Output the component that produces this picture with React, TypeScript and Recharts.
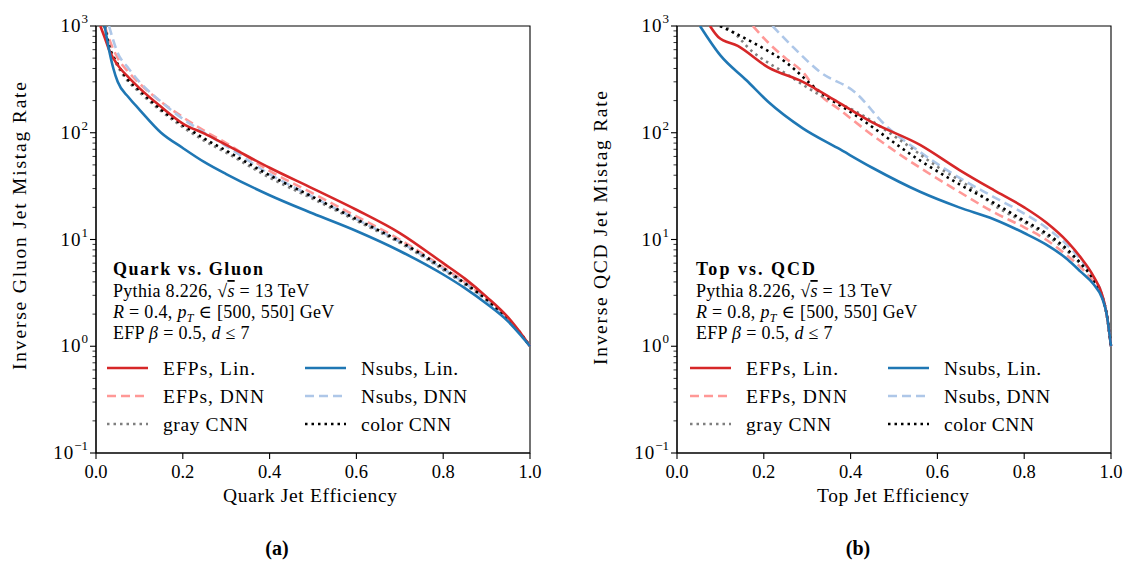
import React from "react";
import {
  LineChart,
  Line,
  XAxis,
  YAxis,
  ReferenceArea,
} from "recharts";

// ---------- data ----------
// Panel (a): quark vs gluon
const qgEfpLinX = [0.01, 0.02, 0.03, 0.05, 0.075, 0.1, 0.15, 0.2, 0.25, 0.3, 0.4, 0.5, 0.6, 0.7, 0.8, 0.85, 0.9, 0.95, 0.98, 1.0];
const qgEfpLinY = [1000, 780, 600, 430, 330, 262, 175, 122, 98, 77, 47, 30, 19, 11.5, 6.0, 4.3, 2.9, 1.85, 1.3, 1.0];
const qgNsubLinX = [0.02, 0.03, 0.04, 0.05, 0.075, 0.1, 0.15, 0.2, 0.25, 0.3, 0.4, 0.5, 0.6, 0.7, 0.8, 0.85, 0.9, 0.95, 0.98, 1.0];
const qgNsubLinY = [1000, 600, 400, 300, 215, 165, 100, 72, 53, 41, 26, 17.5, 12, 7.8, 4.7, 3.5, 2.5, 1.7, 1.25, 1.0];
const qgEfpDnnX = [0.02, 0.03, 0.05, 0.075, 0.1, 0.15, 0.2, 0.25, 0.3, 0.4, 0.5, 0.6, 0.7, 0.8, 0.85, 0.9, 0.95, 0.98, 1.0];
const qgEfpDnnY = [1000, 760, 500, 370, 290, 195, 140, 104, 80, 44, 27, 16.5, 10, 5.5, 4.0, 2.8, 1.8, 1.3, 1.0];
const qgNsubDnnX = [0.03, 0.05, 0.075, 0.1, 0.15, 0.2, 0.25, 0.3, 0.4, 0.5, 0.6, 0.7, 0.8, 0.85, 0.9, 0.95, 0.98, 1.0];
const qgNsubDnnY = [1000, 560, 400, 300, 195, 135, 100, 75, 41, 25, 15.5, 9.5, 5.3, 3.9, 2.7, 1.75, 1.28, 1.0];
const qgGrayX = [0.02, 0.03, 0.05, 0.075, 0.1, 0.15, 0.2, 0.25, 0.3, 0.4, 0.5, 0.6, 0.7, 0.8, 0.85, 0.9, 0.95, 0.98, 1.0];
const qgGrayY = [1000, 640, 420, 300, 240, 160, 113, 84, 65, 38, 24, 15, 9.3, 5.2, 3.8, 2.7, 1.75, 1.28, 1.0];
const qgColorX = [0.02, 0.03, 0.05, 0.075, 0.1, 0.15, 0.2, 0.25, 0.3, 0.4, 0.5, 0.6, 0.7, 0.8, 0.85, 0.9, 0.95, 0.98, 1.0];
const qgColorY = [1000, 660, 440, 310, 250, 165, 118, 88, 68, 40, 25, 15.5, 9.6, 5.4, 3.9, 2.75, 1.78, 1.3, 1.0];

// Panel (b): top vs QCD
const tqEfpLinX = [0.076, 0.095, 0.14, 0.21, 0.29, 0.37, 0.45, 0.56, 0.65, 0.73, 0.8, 0.85, 0.9, 0.93, 0.96, 0.98, 0.99, 1.0];
const tqEfpLinY = [1000, 790, 650, 410, 300, 195, 125, 77, 45, 29, 20, 14.5, 9.5, 6.8, 4.5, 3.0, 2.0, 1.0];
const tqNsubLinX = [0.053, 0.1, 0.16, 0.21, 0.29, 0.37, 0.45, 0.56, 0.65, 0.73, 0.8, 0.85, 0.9, 0.93, 0.96, 0.98, 0.99, 1.0];
const tqNsubLinY = [1000, 530, 310, 195, 110, 72, 47, 28, 20, 15.5, 11.5, 9.0, 6.5, 5.0, 3.8, 2.8, 2.0, 1.0];
const tqEfpDnnX = [0.175, 0.21, 0.25, 0.29, 0.33, 0.37, 0.45, 0.56, 0.65, 0.73, 0.8, 0.85, 0.9, 0.93, 0.96, 0.98, 0.99, 1.0];
const tqEfpDnnY = [1000, 700, 500, 370, 225, 170, 95, 47, 28, 18, 13, 10, 7.0, 5.5, 4.0, 2.9, 2.0, 1.0];
const tqNsubDnnX = [0.22, 0.27, 0.33, 0.41, 0.48, 0.56, 0.65, 0.73, 0.8, 0.85, 0.9, 0.93, 0.96, 0.98, 0.99, 1.0];
const tqNsubDnnY = [1000, 620, 370, 240, 118, 66, 38, 25, 17.5, 13, 8.8, 6.5, 4.4, 3.0, 2.0, 1.0];
const tqGrayX = [0.1, 0.115, 0.175, 0.25, 0.33, 0.41, 0.52, 0.6, 0.68, 0.73, 0.8, 0.85, 0.9, 0.93, 0.96, 0.98, 0.99, 1.0];
const tqGrayY = [1000, 960, 570, 360, 225, 160, 82, 48, 30, 21, 14.5, 11, 7.7, 5.9, 4.2, 2.9, 2.0, 1.0];
const tqColorX = [0.099, 0.175, 0.25, 0.33, 0.41, 0.56, 0.65, 0.73, 0.8, 0.85, 0.9, 0.93, 0.96, 0.98, 0.99, 1.0];
const tqColorY = [1000, 700, 460, 240, 147, 55, 33, 22, 15, 11.5, 8.0, 6.0, 4.2, 2.9, 2.0, 1.0];

const xTicks = [0, 0.2, 0.4, 0.6, 0.8, 1.0];
const yTicks = [0.1, 0.2, 0.3, 0.4, 0.5, 0.6, 0.7, 0.8, 0.9, 1, 2, 3, 4, 5, 6, 7, 8, 9, 10, 20, 30, 40, 50, 60, 70, 80, 90, 100, 200, 300, 400, 500, 600, 700, 800, 900, 1000];

const legendNames = ["EFPs, Lin.", "EFPs, DNN", "gray CNN", "Nsubs, Lin.", "Nsubs, DNN", "color CNN"];
const legendWidths = [92, 101, 85, 97, 106, 90];

const FONT = "'Liberation Serif', 'DejaVu Serif', serif";

const styles = [
  { color: "#d62728", dash: undefined, width: 2.6 },
  { color: "#ff9896", dash: "9 5", width: 2.6 },
  { color: "#7f7f7f", dash: "2.5 4", width: 2.6 },
  { color: "#1f77b4", dash: undefined, width: 2.6 },
  { color: "#aec7e8", dash: "9 5", width: 2.6 },
  { color: "#000000", dash: "2.5 4", width: 2.6 },
];

const zip = (xs: number[], ys: number[]) => xs.map((x, i) => ({ x, y: ys[i] }));

const YTick = ({ x, y, payload }: any) => {
  const v = payload.value as number;
  const lg = Math.log10(v);
  const exp = Math.round(lg);
  const major = Math.abs(lg - exp) < 1e-6;
  return (
    <g>
      <line x1={x} x2={x - (major ? 6 : 3.5)} y1={y} y2={y} stroke="#000" strokeWidth={major ? 1.1 : 0.8} />
      {major && (
        <text x={x - 8} y={y + 6} textAnchor="end" fontFamily={FONT} fontSize={19} fill="#000">
          <tspan letterSpacing={1}>10</tspan>
          <tspan dy={-9} fontSize={13}>
            {exp < 0 ? "\u2212" + Math.abs(exp) : exp}
          </tspan>
        </text>
      )}
    </g>
  );
};

const XTick = ({ x, y, payload }: any) => (
  <g>
    <line x1={x} x2={x} y1={y} y2={y + 6} stroke="#000" strokeWidth={1.1} />
    <text x={x} y={y + 25} textAnchor="middle" fontFamily={FONT} fontSize={18.5} fill="#000">
      {(payload.value as number).toFixed(1)}
    </text>
  </g>
);

interface PanelProps {
  series: { x: number; y: number }[][];
  width: number;
  right: number;
}

function Panel({ series, width, right }: PanelProps) {
  return (
    <LineChart width={width} height={500} margin={{ top: 26, right, bottom: 0, left: 0 }}>
      <XAxis
        type="number"
        dataKey="x"
        domain={[0, 1]}
        ticks={xTicks}
        tick={<XTick />}
        tickSize={0}
        tickMargin={0}
        tickLine={false}
        axisLine={{ stroke: "#000", strokeWidth: 1.1 }}
        height={47}
        allowDuplicatedCategory={false}
      />
      <YAxis
        type="number"
        dataKey="y"
        scale="log"
        domain={[0.1, 1000]}
        allowDataOverflow
        ticks={yTicks}
        interval={0}
        tick={<YTick />}
        tickSize={0}
        tickMargin={0}
        tickLine={false}
        axisLine={{ stroke: "#000", strokeWidth: 1.1 }}
        width={96}
      />
      <ReferenceArea x1={0} x2={1} y1={0.1} y2={1000} fill="none" stroke="#000" strokeWidth={1.1} fillOpacity={0} />
      {[1, 4, 2, 5, 0, 3].map((i) => (
        <Line
          key={i}
          data={series[i]}
          dataKey="y"
          type="monotone"
          dot={false}
          stroke={styles[i].color}
          strokeWidth={styles[i].width}
          strokeDasharray={styles[i].dash}
          isAnimationActive={false}
        />
      ))}
    </LineChart>
  );
}

function Notes({ ox, title, titleW, r }: { ox: number; title: string; titleW: number; r: string }) {
  const t = { fontFamily: FONT, fontSize: 18, fill: "#000", letterSpacing: 0.3 } as const;
  const col1 = [0, 1, 2];
  const col2 = [3, 4, 5];
  const rowsY = [368, 396, 424];
  return (
    <g>
      <text x={ox + 113} y={275} fontFamily={FONT} fontSize={18} fontWeight="bold" textLength={titleW} lengthAdjust="spacing">
        {title}
      </text>
      <text x={ox + 113} y={297} {...t}>
        Pythia 8.226, <tspan>{"\u221A"}</tspan>
        <tspan textDecoration="overline" fontStyle="italic">s</tspan> = 13 TeV
      </text>
      <text x={ox + 113} y={318} {...t}>
        <tspan fontStyle="italic">R</tspan> = {r}, <tspan fontStyle="italic">p</tspan>
        <tspan fontStyle="italic" fontSize={12} dy={4}>T</tspan>
        <tspan dy={-4}> {"\u2208"} [500, 550] GeV</tspan>
      </text>
      <text x={ox + 113} y={339} {...t}>
        EFP <tspan fontStyle="italic">{"\u03B2"}</tspan> = 0.5, <tspan fontStyle="italic">d</tspan> {"\u2264"} 7
      </text>
      {[col1, col2].map((col, c) =>
        col.map((i, r2) => (
          <g key={i}>
            <line
              x1={ox + 107 + c * 198}
              x2={ox + 148 + c * 198}
              y1={rowsY[r2]}
              y2={rowsY[r2]}
              stroke={styles[i].color}
              strokeWidth={styles[i].width}
              strokeDasharray={styles[i].dash}
            />
            <text
              x={ox + 163 + c * 198}
              y={rowsY[r2] + 7}
              fontFamily={FONT}
              fontSize={19.5}
              fill="#000"
              textLength={legendWidths[i]}
              lengthAdjust="spacing"
            >
              {legendNames[i]}
            </text>
          </g>
        ))
      )}
    </g>
  );
}

export default function App() {
  const qg = [
    zip(qgEfpLinX, qgEfpLinY),
    zip(qgEfpDnnX, qgEfpDnnY),
    zip(qgGrayX, qgGrayY),
    zip(qgNsubLinX, qgNsubLinY),
    zip(qgNsubDnnX, qgNsubDnnY),
    zip(qgColorX, qgColorY),
  ];
  const tq = [
    zip(tqEfpLinX, tqEfpLinY),
    zip(tqEfpDnnX, tqEfpDnnY),
    zip(tqGrayX, tqGrayY),
    zip(tqNsubLinX, tqNsubLinY),
    zip(tqNsubDnnX, tqNsubDnnY),
    zip(tqColorX, tqColorY),
  ];
  const lab = { fontFamily: FONT, fontSize: 19.5, fill: "#000", lengthAdjust: "spacing" } as const;
  return (
    <div style={{ position: "absolute", left: 0, top: 0, width: 1129, height: 561, background: "#fff" }}>
      <div style={{ position: "absolute", left: 0, top: 0 }}>
        <Panel series={qg} width={560} right={30} />
      </div>
      <div style={{ position: "absolute", left: 581, top: 0 }}>
        <Panel series={tq} width={548} right={18} />
      </div>
      <svg width={1129} height={561} style={{ position: "absolute", left: 0, top: 0, pointerEvents: "none" }}>
        <text transform="translate(26,226) rotate(-90)" x={-144} {...lab} textLength={288}>
          Inverse Gluon Jet Mistag Rate
        </text>
        <text transform="translate(607,228) rotate(-90)" x={-137} {...lab} textLength={274}>
          Inverse QCD Jet Mistag Rate
        </text>
        <text x={223} y={502} {...lab} textLength={174}>Quark Jet Efficiency</text>
        <text x={817} y={502} {...lab} textLength={152}>Top Jet Efficiency</text>
        <text x={277} y={555} textAnchor="middle" fontFamily={FONT} fontSize={20} fontWeight="bold">(a)</text>
        <text x={858} y={555} textAnchor="middle" fontFamily={FONT} fontSize={20} fontWeight="bold">(b)</text>
        <Notes ox={0} title="Quark vs. Gluon" titleW={150} r="0.4" />
        <Notes ox={583} title="Top vs. QCD" titleW={119} r="0.8" />
      </svg>
    </div>
  );
}
